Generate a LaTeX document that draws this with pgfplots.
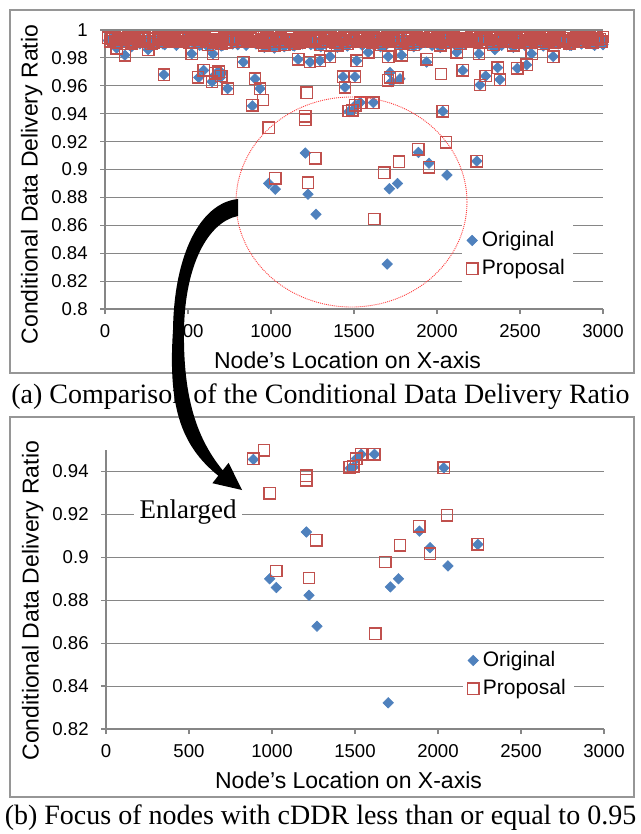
\documentclass[border=0pt]{standalone}
\usepackage{fontspec}
\setmainfont{Liberation Serif}
\newfontfamily\axisfont{Liberation Sans}
\usepackage{pgfplots}
\usepackage{pgfplotstable}
\pgfplotsset{compat=1.18}
\definecolor{origc}{RGB}{79,129,189}
\definecolor{propc}{RGB}{192,80,77}
\definecolor{gridc}{RGB}{134,134,134}
\definecolor{framec}{RGB}{150,150,150}

\pgfplotstableread{
x o p
20 .9925 .9945
40 .9940 .9938
60 .9905 .9948
80 .9935 .9930
100 .9918 .9942
120 .9944 .9935
140 .9895 .9950
160 .9880 .9905
180 .9912 .9940
200 .9938 .9946
220 .9920 .9932
240 .9925 .9944
260 .9940 .9937
280 .9885 .9900
300 .9935 .9938
320 .9918 .9948
340 .9944 .9930
360 .9895 .9942
380 .9930 .9935
400 .9912 .9950
420 .9938 .9926
440 .9920 .9940
460 .9925 .9946
480 .9940 .9932
500 .9905 .9944
520 .9935 .9937
540 .9918 .9945
560 .9944 .9938
580 .9895 .9948
600 .9930 .9930
620 .9880 .9895
640 .9938 .9935
660 .9920 .9950
680 .9925 .9926
700 .9885 .9900
720 .9905 .9946
740 .9935 .9932
760 .9918 .9944
780 .9944 .9937
800 .9895 .9945
820 .9930 .9938
840 .9912 .9948
860 .9938 .9930
880 .9920 .9942
900 .9925 .9935
920 .9940 .9950
940 .9905 .9926
960 .9875 .9890
980 .9918 .9946
1000 .9944 .9932
1020 .9870 .9885
1040 .9930 .9937
1060 .9912 .9945
1080 .9880 .9895
1100 .9920 .9948
1120 .9925 .9930
1140 .9885 .9900
1160 .9905 .9935
1180 .9935 .9950
1200 .9918 .9926
1220 .9944 .9940
1240 .9895 .9946
1260 .9930 .9932
1280 .9912 .9944
1300 .9880 .9895
1320 .9920 .9945
1340 .9925 .9938
1360 .9940 .9948
1380 .9905 .9930
1400 .9875 .9890
1420 .9918 .9935
1440 .9944 .9950
1460 .9885 .9900
1480 .9930 .9940
1500 .9912 .9946
1520 .9938 .9932
1540 .9920 .9944
1560 .9925 .9937
1580 .9940 .9945
1600 .9905 .9938
1620 .9935 .9948
1640 .9918 .9930
1660 .9880 .9895
1680 .9895 .9935
1700 .9930 .9950
1720 .9912 .9926
1740 .9938 .9940
1760 .9920 .9946
1780 .9885 .9900
1800 .9940 .9944
1820 .9905 .9937
1840 .9935 .9945
1860 .9880 .9895
1880 .9944 .9948
1900 .9895 .9930
1920 .9930 .9942
1940 .9912 .9935
1960 .9938 .9950
1980 .9920 .9926
2000 .9925 .9940
2020 .9875 .9890
2040 .9905 .9932
2060 .9935 .9944
2080 .9918 .9937
2100 .9944 .9945
2120 .9895 .9938
2140 .9885 .9900
2160 .9912 .9930
2180 .9938 .9942
2200 .9920 .9935
2220 .9925 .9950
2240 .9940 .9926
2260 .9905 .9940
2280 .9935 .9946
2300 .9918 .9932
2320 .9944 .9944
2340 .9880 .9895
2360 .9930 .9945
2380 .9912 .9938
2400 .9938 .9948
2420 .9920 .9930
2440 .9925 .9942
2460 .9875 .9890
2480 .9905 .9950
2500 .9935 .9926
2520 .9918 .9940
2540 .9944 .9946
2560 .9895 .9932
2580 .9930 .9944
2600 .9912 .9937
2620 .9938 .9945
2640 .9885 .9900
2660 .9925 .9948
2680 .9940 .9930
2700 .9905 .9942
2720 .9935 .9935
2740 .9918 .9950
2760 .9944 .9926
2780 .9895 .9940
2800 .9890 .9905
2820 .9912 .9932
2840 .9938 .9944
2860 .9920 .9937
2880 .9925 .9945
2900 .9940 .9938
2920 .9905 .9948
2940 .9900 .9910
2960 .9918 .9942
2980 .9944 .9935
3000 .9895 .9950
}\band

\pgfplotstableread{
x o p
30 .9915 .9920
50 .9930 .9934
70 .9900 .9912
90 .9938 .9943
110 .9910 .9928
130 .9925 .9915
150 .9890 .9940
170 .9915 .9922
190 .9930 .9936
210 .9900 .9918
230 .9938 .9947
250 .9910 .9920
270 .9925 .9934
290 .9890 .9912
310 .9915 .9943
330 .9930 .9928
350 .9900 .9915
370 .9938 .9940
390 .9910 .9922
410 .9925 .9936
430 .9890 .9918
450 .9915 .9947
470 .9930 .9920
490 .9900 .9934
510 .9938 .9912
530 .9910 .9943
550 .9925 .9928
570 .9890 .9915
590 .9915 .9940
610 .9930 .9922
630 .9900 .9936
650 .9938 .9918
670 .9910 .9947
690 .9925 .9920
710 .9890 .9934
730 .9915 .9912
750 .9930 .9943
770 .9900 .9928
790 .9938 .9915
810 .9910 .9940
830 .9925 .9922
850 .9890 .9936
870 .9915 .9918
890 .9930 .9947
910 .9900 .9920
930 .9938 .9934
950 .9910 .9912
970 .9925 .9943
990 .9890 .9928
1010 .9915 .9915
1030 .9930 .9940
1050 .9900 .9922
1070 .9938 .9936
1090 .9910 .9918
1110 .9925 .9947
1130 .9890 .9920
1150 .9915 .9934
1170 .9930 .9912
1190 .9900 .9943
1210 .9938 .9928
1230 .9910 .9915
1250 .9925 .9940
1270 .9890 .9922
1290 .9915 .9936
1310 .9930 .9918
1330 .9900 .9947
1350 .9938 .9920
1370 .9910 .9934
1390 .9925 .9912
1410 .9890 .9943
1430 .9915 .9928
1450 .9930 .9915
1470 .9900 .9940
1490 .9938 .9922
1510 .9910 .9936
1530 .9925 .9918
1550 .9890 .9947
1570 .9915 .9920
1590 .9930 .9934
1610 .9900 .9912
1630 .9938 .9943
1650 .9910 .9928
1670 .9925 .9915
1690 .9890 .9940
1710 .9915 .9922
1730 .9930 .9936
1750 .9900 .9918
1770 .9938 .9947
1790 .9910 .9920
1810 .9925 .9934
1830 .9890 .9912
1850 .9915 .9943
1870 .9930 .9928
1890 .9900 .9915
1910 .9938 .9940
1930 .9910 .9922
1950 .9925 .9936
1970 .9890 .9918
1990 .9915 .9947
2010 .9930 .9920
2030 .9900 .9934
2050 .9938 .9912
2070 .9910 .9943
2090 .9925 .9928
2110 .9890 .9915
2130 .9915 .9940
2150 .9930 .9922
2170 .9900 .9936
2190 .9938 .9918
2210 .9910 .9947
2230 .9925 .9920
2250 .9890 .9934
2270 .9915 .9912
2290 .9930 .9943
2310 .9900 .9928
2330 .9938 .9915
2350 .9910 .9940
2370 .9925 .9922
2390 .9890 .9936
2410 .9915 .9918
2430 .9930 .9947
2450 .9900 .9920
2470 .9938 .9934
2490 .9910 .9912
2510 .9925 .9943
2530 .9890 .9928
2550 .9915 .9915
2570 .9930 .9940
2590 .9900 .9922
2610 .9938 .9936
2630 .9910 .9918
2650 .9925 .9947
2670 .9890 .9920
2690 .9915 .9934
2710 .9930 .9912
2730 .9900 .9943
2750 .9938 .9928
2770 .9910 .9915
2790 .9925 .9940
2810 .9890 .9922
2830 .9915 .9936
2850 .9930 .9918
2870 .9900 .9947
2890 .9938 .9920
2910 .9910 .9934
2930 .9925 .9912
2950 .9890 .9943
2970 .9915 .9928
2990 .9930 .9915
}\bandb

\pgfplotstableread{
x y
70 .987
120 .982
260 .986
355 .968
522 .983
565 .966
594 .971
645 .963
650 .983
665 .968
680 .970
695 .966
705 .969
738 .958
833 .977
888 .9456
904 .965
934 .958
986 .8900
1026 .8859
1163 .979
1207 .9118
1223 .8823
1235 .977
1271 .8679
1295 .978
1355 .981
1434 .9665
1446 .959
1470 .9415
1490 .9420
1508 .9460
1506 .9665
1516 .978
1537 .9480
1585 .984
1617 .9480
1700 .8322
1706 .981
1713 .8862
1717 .9695
1727 .963
1762 .8900
1777 .965
1787 .982
1888 .9122
1937 .977
1952 .9045
2035 .9417
2060 .8960
2119 .984
2155 .971
2240 .9060
2253 .983
2259 .9606
2293 .967
2349 .986
2365 .973
2379 .9645
2484 .9725
2540 .975
2570 .983
2700 .981
}\origscat

\pgfplotstableread{
x y
70 .987
120 .982
260 .986
355 .968
522 .983
560 .966
594 .971
645 .963
650 .983
665 .969
685 .970
700 .967
738 .958
833 .977
888 .9460
904 .965
934 .958
952 .9498
986 .9299
1026 .8936
1165 .979
1207 .9380
1207 .9358
1215 .955
1223 .8904
1235 .977
1267 .9079
1295 .978
1355 .981
1434 .9665
1446 .959
1467 .9420
1490 .9425
1508 .9460
1506 .9665
1516 .978
1537 .9480
1585 .984
1617 .9480
1623 .8645
1683 .8978
1705 .964
1717 .966
1706 .981
1760 .966
1771 .9056
1787 .982
1888 .9144
1937 .979
1952 .9017
2024 .9685
2035 .9417
2054 .9195
2119 .984
2155 .971
2240 .9060
2253 .983
2259 .9606
2293 .967
2365 .973
2379 .9645
2484 .9725
2540 .975
2570 .983
2700 .981
}\propscat

\pgfplotsset{
  cddr/.style={
    scale only axis, width=249pt, height=139.5pt,
    xmin=0, xmax=3000,
    axis x line*=bottom, axis y line*=left,
    axis line style={draw=gridc, line width=0.7pt},
    ymajorgrids, grid style={draw=gridc, line width=0.55pt},
    xtick={0,500,1000,1500,2000,2500,3000},
    tick align=outside, major tick length=2.5pt,
    tick style={draw=gridc, line width=0.6pt},
    scaled ticks=false,
    /pgf/number format/assume math mode=true,
    /pgf/number format/1000 sep={},
    yticklabel style={/pgf/number format/fixed, /pgf/number format/precision=2, inner sep=0pt, xshift=-6pt},
    xticklabel style={inner sep=0pt, yshift=-5pt},
    tick label style={font=\axisfont\fontsize{9.3}{11}\selectfont},
    xlabel={Node’s Location on X-axis},
    ylabel={Conditional Data Delivery Ratio},
    every axis x label/.style={at={(axis description cs:0.487,-0.183)}, anchor=center,
      font=\axisfont\fontsize{11.5}{13}\selectfont},
    clip=false,
    legend style={at={(0.717,0.195)}, anchor=west, draw=none, fill=white,
      inner xsep=2pt, inner ysep=1pt, row sep=1pt,
      font=\axisfont\fontsize{10.5}{12.5}\selectfont, cells={anchor=west}},
    legend image code/.code={\draw[only marks,#1] plot coordinates {(0pt,0pt)};},
  },
  origm/.style={only marks, color=origc, mark=square*, mark size=1.85pt,
    mark options={rotate=45, fill=origc, draw=origc, line width=0.3pt}},
  propm/.style={only marks, color=propc, mark=square, mark size=2.85pt,
    mark options={draw=propc, line width=0.7pt}},
}

\begin{document}
\begin{tikzpicture}
\path[use as bounding box] (0pt,0pt) rectangle (320.5pt,-417pt);
\begin{scope}[x=0.5pt,y=-0.5pt]
  \draw[framec, line width=0.6pt] (10,10) rectangle (634,373);
  \draw[framec, line width=0.6pt] (10,417) rectangle (634,797);
\end{scope}

% Top chart
\begin{axis}[cddr, at={(52.5pt,-154.5pt)}, anchor=south west,
  ymin=0.8, ymax=1,
  ytick={0.8,0.82,0.84,0.86,0.88,0.9,0.92,0.94,0.96,0.98,1},
  every axis y label/.style={at={(axis description cs:-0.147,0.446)}, rotate=90, anchor=center,
    font=\axisfont\fontsize{11.5}{13}\selectfont},
]
  \addplot[origm, forget plot] table[x=x,y=o]{\band};
  \addplot[origm, forget plot] table[x=x,y=o]{\bandb};
  \addplot[origm] table[x=x,y=y]{\origscat};
  \addlegendentry{Original}
  \addplot[propm, forget plot] table[x=x,y=p]{\band};
  \addplot[propm, forget plot] table[x=x,y=p]{\bandb};
  \addplot[propm] table[x=x,y=y]{\propscat};
  \addlegendentry{Proposal}
\end{axis}

% Bottom chart
\begin{axis}[cddr, at={(53pt,-364.5pt)}, anchor=south west,
  ymin=0.82, ymax=0.95,
  ytick={0.82,0.84,0.86,0.88,0.9,0.92,0.94},
  restrict y to domain=0.8:0.9505,
  every axis y label/.style={at={(axis description cs:-0.147,0.46)}, rotate=90, anchor=center,
    font=\axisfont\fontsize{11.5}{13}\selectfont},
]
  \addplot[origm] table[x=x,y=y]{\origscat};
  \addlegendentry{Original}
  \addplot[propm] table[x=x,y=y]{\propscat};
  \addlegendentry{Proposal}
\end{axis}

\begin{scope}[x=0.5pt,y=-0.5pt]
  % red dotted circle
  \draw[red!75!white, line width=0.45pt, dash pattern=on 0.5pt off 0.5pt]
    (351.5,202) ellipse [x radius=57.75pt, y radius=52.5pt];
  % captions
  \node[font=\fontsize{14}{16}\selectfont, inner sep=0pt] at (320.5,397)
    {(a) Comparison of the Conditional Data Delivery Ratio};
  \node[font=\fontsize{14}{16}\selectfont, inner sep=0pt] at (320.5,818)
    {(b) Focus of nodes with cDDR less than or equal to 0.95};
  % Enlarged label
  \node[font=\fontsize{13.5}{15}\selectfont, fill=white, inner xsep=3pt, inner ysep=1pt] at (188,512) {Enlarged};
  % black arrow
  \fill[black] (238,199) .. controls (200,203) and (174,255) .. (173,330)
    .. controls (168,405) and (180,445) .. (218.3,475.7)
    -- (212.4,483.2) -- (242,490) -- (228.6,462.8) -- (222.7,470.3)
    .. controls (198,440) and (183,400) .. (184,330)
    .. controls (185,265) and (208,222) .. (238,216) -- cycle;
\end{scope}
\end{tikzpicture}
\end{document}
